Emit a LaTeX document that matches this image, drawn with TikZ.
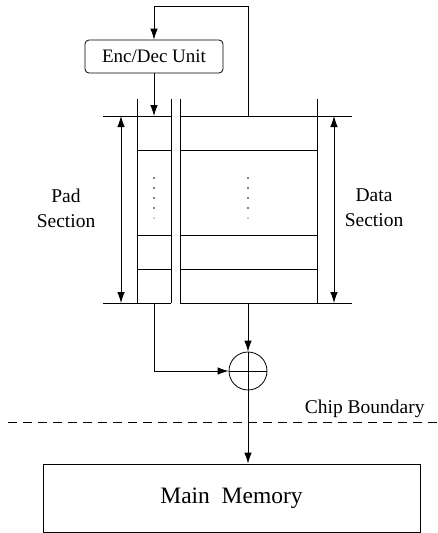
\documentclass[tikz,border=0pt]{standalone}
\usepackage{fontspec}
\setmainfont{Liberation Serif}
\newfontfamily\figfont{Liberation Serif}
\usetikzlibrary{arrows.meta}
\begin{document}
\begin{tikzpicture}[x=1pt,y=-1pt, line width=0.8pt,
  arr/.style={-{Latex[length=11pt,width=7.5pt]}},
  darr/.style={{Latex[length=11pt,width=7.5pt]}-{Latex[length=11pt,width=7.5pt]}},
  lbl/.style={font=\figfont\fontsize{19.5}{25}\selectfont, align=center, inner sep=0pt}]
\useasboundingbox (0,0) rectangle (437,533);
% nodes
\node[draw, rounded corners=4pt, minimum width=138pt, minimum height=33pt,
      font=\figfont\fontsize{19}{22}\selectfont, inner sep=0pt] (enc) at (154,56.5) {Enc/Dec Unit};
\node[draw, circle, minimum size=38pt, inner sep=0pt] (xor) at (248,371) {};
\draw (xor.north) -- (xor.south) (xor.west) -- (xor.east);
\node[draw, minimum width=377pt, minimum height=68pt, inner sep=0pt,
      font=\figfont\fontsize{23.5}{28}\selectfont] (mem) at (231.5,498) {Main\ \ Memory};
\coordinate (dtop) at (248,116);
\coordinate (ptop) at (154,116);
\coordinate (pbot) at (154,303);
\coordinate (dbot) at (248,303);
% storage array
\draw (103,116)--(171,116) (180,116)--(352,116);
\draw (103,303)--(171,303) (180,303)--(352,303);
\foreach \x in {137,171,180,317} \draw (\x,99)--(\x,303);
\foreach \y in {150,235,269} \draw (137,\y)--(171,\y) (180,\y)--(317,\y);
\coordinate (la) at (121,116); \coordinate (lb) at (121,303);
\coordinate (ra) at (334,116); \coordinate (rb) at (334,303);
\draw[darr] (la)--(lb);
\draw[darr] (ra)--(rb);
\foreach \y in {178,188,198,208} \fill (154,\y) circle (0.9) (248,\y) circle (0.9);
\fill[black!40] (154,218) circle (0.8) (248,218) circle (0.8);
% labels
\node[lbl] (padl) at (66,208) {Pad\\Section};
\node[lbl] (datal) at (374,208) {Data\\Section};
\node[lbl, anchor=base east] (chip) at (425,413) {Chip Boundary};
% connectors
\draw[arr] (dtop) -- (248,6) -| (enc.north);
\draw[arr] (enc.south) -- (ptop);
\draw[arr] (dbot) -- (xor.north);
\draw[arr] (pbot) |- (xor.west);
\draw[arr] (xor.south) -- (xor.south |- mem.north);
\draw[dash pattern=on 9pt off 6pt] (8,422) -- (437,422);
\end{tikzpicture}
\end{document}
